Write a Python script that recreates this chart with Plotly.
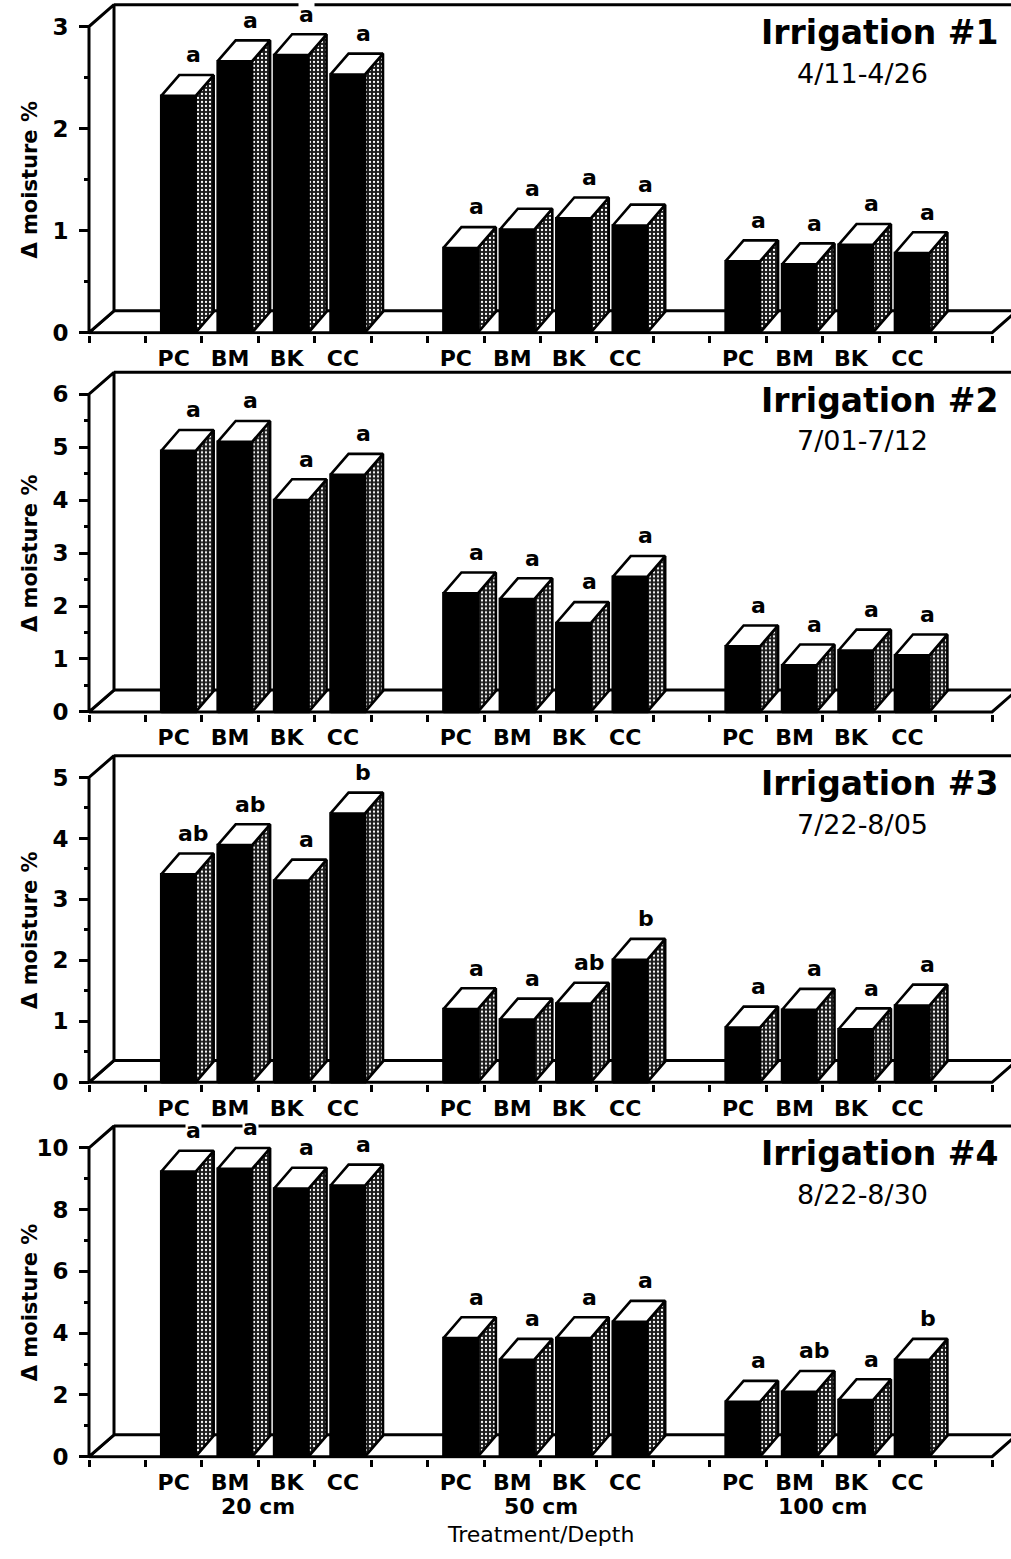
import plotly.graph_objects as go

# ---------------------------------------------------------------- data
treatments = ["PC", "BM", "BK", "CC"]
depths = ["20 cm", "50 cm", "100 cm"]

panel_titles = ["Irrigation #1", "Irrigation #2", "Irrigation #3", "Irrigation #4"]
panel_dates = ["4/11-4/26", "7/01-7/12", "7/22-8/05", "8/22-8/30"]

# change in soil moisture (%), ordered 20 cm (PC BM BK CC), 50 cm, 100 cm
moisture_irr1 = [2.32, 2.66, 2.72, 2.53, 0.83, 1.01, 1.12, 1.05, 0.70, 0.67, 0.86, 0.78]
moisture_irr2 = [4.93, 5.10, 4.00, 4.48, 2.24, 2.13, 1.68, 2.55, 1.24, 0.88, 1.16, 1.07]
moisture_irr3 = [3.41, 3.89, 3.31, 4.41, 1.20, 1.03, 1.29, 2.01, 0.90, 1.19, 0.87, 1.26]
moisture_irr4 = [9.23, 9.32, 8.68, 8.78, 3.84, 3.14, 3.84, 4.37, 1.78, 2.10, 1.83, 3.14]

# mean separation letters, same order
letters_irr1 = ["a"] * 12
letters_irr2 = ["a"] * 12
letters_irr3 = ["ab", "ab", "a", "b", "a", "a", "ab", "b", "a", "a", "a", "a"]
letters_irr4 = ["a", "a", "a", "a", "a", "a", "a", "a", "a", "ab", "a", "b"]

y_max = [3, 6, 5, 10]
y_step = [1, 1, 1, 2]

panel_values = [moisture_irr1, moisture_irr2, moisture_irr3, moisture_irr4]
panel_letters = [letters_irr1, letters_irr2, letters_irr3, letters_irr4]

# ---------------------------------------------------------------- geometry (pixels)
W, H = 1011, 1559
SLOT_PX = 56.44          # width of one category slot
AXIS_X_PX = 89           # left edge of the front plane
N_SLOTS = 16
zero_px = [335, 717, 1090, 1467]     # pixel row of value 0 for each panel
top_px = [26.7, 397, 783, 1156]      # pixel row of the top tick
WALL_DX, WALL_DY = 25, 22            # depth of floor / side wall
BAR_DX, BAR_DY = 18, 21              # depth of each bar
FACE_L, FACE_R = 0.28, 0.89          # front face extent inside a slot

x_lo = -AXIS_X_PX / SLOT_PX
x_hi = (W - AXIS_X_PX) / SLOT_PX

FONT = "DejaVu Sans"
LW = 2.6

fig = go.Figure()
layout_axes = {}
annotations = []

# slot index of every bar: groups of four separated by an empty slot
slots = [1 + 5 * g + t for g in range(len(depths)) for t in range(len(treatments))]
centers = [s + 0.5 for s in slots]
tick_text = [treatments[t] for g in range(len(depths)) for t in range(len(treatments))]

for p in range(4):
    n = p + 1
    xa = "x" if n == 1 else f"x{n}"
    ya = "y" if n == 1 else f"y{n}"
    unit = (zero_px[p] - top_px[p]) / y_max[p]          # pixels per data unit
    bottom_dom = zero_px[p] + 2
    top_dom = max(0.0, top_px[p] - WALL_DY - 6)
    y_lo = (zero_px[p] - bottom_dom) / unit
    y_hi = (zero_px[p] - top_dom) / unit
    dxw, dyw = WALL_DX / SLOT_PX, WALL_DY / unit
    dxb, dyb = BAR_DX / SLOT_PX, BAR_DY / unit
    ym = y_max[p]

    common = dict(xaxis=xa, yaxis=ya, showlegend=False, hoverinfo="skip")

    # floor
    fig.add_trace(go.Scatter(
        x=[0, N_SLOTS, N_SLOTS + dxw, dxw, 0], y=[0, 0, dyw, dyw, 0],
        mode="lines", fill="toself", fillcolor="white",
        line=dict(color="black", width=3), **common))
    # side wall
    fig.add_trace(go.Scatter(
        x=[0, 0, dxw, dxw, 0], y=[0, ym, ym + dyw, dyw, 0],
        mode="lines", fill="toself", fillcolor="white",
        line=dict(color="black", width=3), **common))
    # top edge of back wall
    fig.add_trace(go.Scatter(
        x=[dxw, x_hi + 1], y=[ym + dyw, ym + dyw],
        mode="lines", line=dict(color="black", width=3), **common))

    vals = panel_values[p]
    fx, fy, sx, sy, tx, ty = [], [], [], [], [], []
    for s, v in zip(slots, vals):
        l, r = s + FACE_L, s + FACE_R
        fx += [l, r, r, l, l, None]
        fy += [0, 0, v, v, 0, None]
        sx += [r, r + dxb, r + dxb, r, r, None]
        sy += [0, dyb, v + dyb, v, 0, None]
        tx += [l, r, r + dxb, l + dxb, l, None]
        ty += [v, v, v + dyb, v + dyb, v, None]

    fig.add_trace(go.Scatter(x=fx, y=fy, mode="lines", fill="toself",
                             fillcolor="black", line=dict(color="black", width=LW),
                             **common))
    fig.add_trace(go.Scatter(x=sx, y=sy, mode="lines", fill="toself",
                             fillcolor="#555",
                             fillpattern=dict(shape=".", bgcolor="#1a1a1a",
                                              fgcolor="white", size=4,
                                              solidity=0.25, fillmode="replace"),
                             line=dict(color="black", width=LW), **common))
    fig.add_trace(go.Scatter(x=tx, y=ty, mode="lines", fill="toself",
                             fillcolor="white", line=dict(color="black", width=LW),
                             **common))

    # significance letters
    for c, v, lab in zip(centers, vals, panel_letters[p]):
        annotations.append(dict(
            x=c + 0.36, y=v, xref=xa, yref=ya, yshift=41, text=lab,
            showarrow=False, xanchor="center", yanchor="middle",
            bgcolor="white", borderpad=0,
            font=dict(family=FONT, size=22, color="black", weight="bold")))

    # axes
    major = list(range(0, ym + 1, y_step[p]))
    minor = [m + y_step[p] / 2 for m in major[:-1]]
    layout_axes["xaxis" if n == 1 else f"xaxis{n}"] = dict(
        domain=[0, 1], range=[x_lo, x_hi], anchor=ya,
        tickmode="array", tickvals=centers, ticktext=tick_text,
        ticks="outside", ticklen=4, tickcolor="rgba(0,0,0,0)",
        tickfont=dict(family=FONT, size=22, color="black", weight="bold"),
        minor=dict(tickmode="array", tickvals=list(range(N_SLOTS + 1)),
                   ticks="outside", ticklen=7, tickwidth=2.5, tickcolor="black",
                   showgrid=False),
        showgrid=False, zeroline=False, showline=False, fixedrange=True)
    layout_axes["yaxis" if n == 1 else f"yaxis{n}"] = dict(
        domain=[1 - bottom_dom / H, 1 - top_dom / H], range=[y_lo, y_hi],
        anchor="free", position=AXIS_X_PX / W,
        tickmode="array", tickvals=major,
        ticks="outside", ticklen=10, tickwidth=3, tickcolor="black",
        ticklabelstandoff=6,
        tickfont=dict(family=FONT, size=23, color="black", weight="bold"),
        minor=dict(tickmode="array", tickvals=minor, ticks="outside",
                   ticklen=5, tickwidth=3, tickcolor="black", showgrid=False),
        showgrid=False, zeroline=False, showline=False, fixedrange=True)

    # y-axis title
    annotations.append(dict(
        x=30 / W, y=1 - ((zero_px[p] + top_px[p]) / 2) / H, xref="paper", yref="paper",
        text="Δ moisture %", textangle=-90, showarrow=False,
        xanchor="center", yanchor="middle",
        font=dict(family=FONT, size=21, color="black", weight="bold")))

    # panel title and dates
    top_line = top_px[p] - WALL_DY
    annotations.append(dict(
        x=1000 / W, y=1 - (top_line + 28) / H, xref="paper", yref="paper",
        text=panel_titles[p], showarrow=False, xanchor="right", yanchor="middle",
        font=dict(family=FONT, size=33, color="black", weight="bold")))
    annotations.append(dict(
        x=862 / W, y=1 - (top_line + 69) / H, xref="paper", yref="paper",
        text=panel_dates[p], showarrow=False, xanchor="center", yanchor="middle",
        font=dict(family=FONT, size=27, color="black")))

# depth labels and axis title under the last panel
for g, d in enumerate(depths):
    annotations.append(dict(
        x=3 + 5 * g, y=1 - 1517 / H, xref="x4", yref="paper", text=d,
        showarrow=False, xanchor="center", yanchor="middle",
        font=dict(family=FONT, size=22, color="black", weight="bold")))
annotations.append(dict(
    x=8, y=1 - 1545 / H, xref="x4", yref="paper", text="Treatment/Depth",
    showarrow=False, xanchor="center", yanchor="middle",
    font=dict(family=FONT, size=22, color="black")))

fig.update_layout(
    width=W, height=H, margin=dict(l=0, r=0, t=0, b=0),
    paper_bgcolor="white", plot_bgcolor="rgba(0,0,0,0)",
    annotations=annotations, **layout_axes)

fig.write_html("out.html")
